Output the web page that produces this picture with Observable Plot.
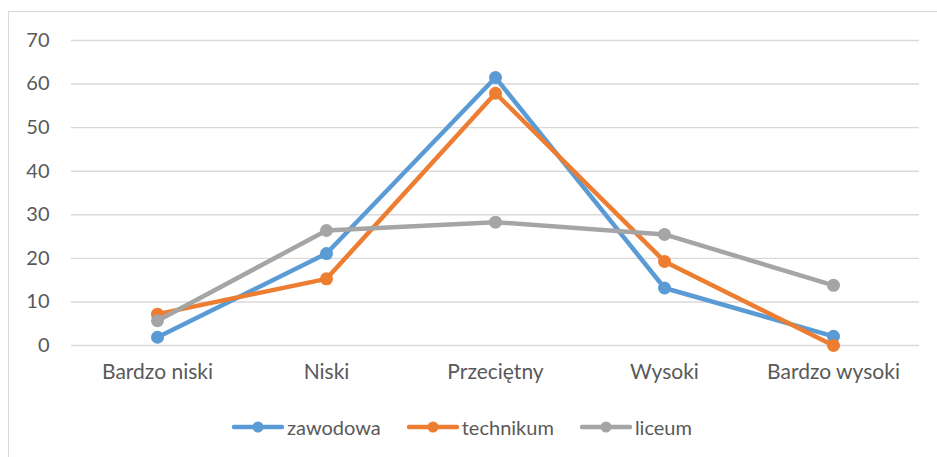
<!DOCTYPE html>
<html>
<head>
<meta charset="utf-8">
<script src="https://cdn.jsdelivr.net/npm/d3@7"></script>
<script src="https://cdn.jsdelivr.net/npm/@observablehq/plot@0.6"></script>
<style>
  html, body { margin: 0; padding: 0; background: #fff; overflow: hidden; width: 937px; height: 457px; }
  #frame { position: absolute; left: 8px; top: 11px; width: 1200px; height: 1000px; border: 1px solid #d9d9d9; pointer-events: none; }
  #chart { position: absolute; left: 0; top: 0; }
  #legend { display: flex; align-items: center; margin-left: 232px; margin-top: 15px; height: 24px;
            font-family: Lato, "Open Sans", sans-serif; font-size: 20px; color: #595959; }
  .item { display: flex; align-items: center; margin-right: 26px; }
  .item svg { margin-right: 3px; }
</style>
</head>
<body>
<div id="frame"></div>
<div id="chart"></div>
<script>
const categories = ["Bardzo niski", "Niski", "Przeciętny", "Wysoki", "Bardzo wysoki"];
const seriesNames = ["zawodowa", "technikum", "liceum"];
const zawodowa = [1.9, 21.1, 61.5, 13.2, 2.1];
const technikum = [7.2, 15.3, 57.9, 19.3, 0];
const liceum = [5.7, 26.4, 28.3, 25.5, 13.8];
const colors = ["#5B9BD5", "#ED7D31", "#A5A5A5"];
const yTicks = [0, 10, 20, 30, 40, 50, 60, 70];

const seriesValues = [zawodowa, technikum, liceum];
const data = seriesNames.flatMap((s, i) =>
  categories.map((c, j) => ({series: s, category: c, value: seriesValues[i][j]})));

const marks = [
  Plot.gridY(yTicks, {stroke: "#d9d9d9", strokeOpacity: 1, strokeWidth: 1.4}),
  Plot.axisY(yTicks, {tickSize: 0, tickPadding: 22, fontSize: 20, fill: "#595959"}),
  Plot.axisX({tickSize: 0, tickPadding: 19, fontSize: 21, fill: "#595959"})
];
seriesNames.forEach((s, i) => {
  const d = data.filter(r => r.series === s);
  marks.push(Plot.line(d, {x: "category", y: "value", stroke: colors[i], strokeWidth: 4.5,
                           strokeLinejoin: "round", strokeLinecap: "round"}));
  marks.push(Plot.dot(d, {x: "category", y: "value", fill: colors[i], r: 6.5}));
});

const chart = Plot.plot({
  width: 937,
  height: 400,
  marginLeft: 71,
  marginRight: 18,
  marginTop: 40,
  marginBottom: 55,
  style: {fontFamily: "Lato, 'Open Sans', sans-serif", background: "transparent", color: "#595959"},
  x: {type: "point", domain: categories, padding: 0.5, label: null},
  y: {domain: [0, 70], label: null},
  marks
});

const wrap = document.getElementById("chart");
wrap.appendChild(chart);

const legend = document.createElement("div");
legend.id = "legend";
seriesNames.forEach((s, i) => {
  const item = document.createElement("div");
  item.className = "item";
  item.innerHTML = `<svg width="52" height="14"><line x1="2" y1="7" x2="50" y2="7" stroke="${colors[i]}" stroke-width="4.5" stroke-linecap="round"/><circle cx="26" cy="7" r="5.5" fill="${colors[i]}"/></svg><span>${s}</span>`;
  legend.appendChild(item);
});
wrap.appendChild(legend);
</script>
</body>
</html>
